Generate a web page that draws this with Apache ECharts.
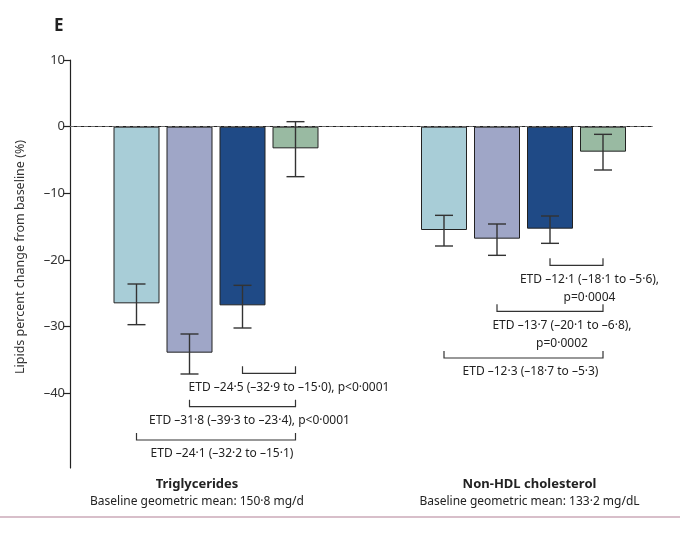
<!DOCTYPE html>
<html>
<head>
<meta charset="utf-8">
<script src="https://cdn.jsdelivr.net/npm/echarts@6/dist/echarts.min.js"></script>
<style>
  html, body { margin: 0; padding: 0; background: #fff; }
  #box { width: 680px; height: 533px; }
</style>
</head>
<body>
<div id="box"></div>
<script>
// 数据
var groups = ['Triglycerides', 'Non-HDL cholesterol'];
var baselines = ['Baseline geometric mean: 150·8 mg/d', 'Baseline geometric mean: 133·2 mg/dL'];
var arms = ['Arm 1', 'Arm 2', 'Arm 3', 'Arm 4'];
var yTicks = [10, 0, -10, -20, -30, -40];

var triMean = [-26.5, -33.9, -26.8, -3.25];
var triLow = [-29.7, -37.1, -30.2, -7.5];
var triHigh = [-23.6, -31.1, -23.8, 0.75];

var nhdlMean = [-15.5, -16.8, -15.3, -3.75];
var nhdlLow = [-17.9, -19.3, -17.5, -6.5];
var nhdlHigh = [-13.3, -14.6, -13.4, -1.15];

// 组间差异标注 (from arm -> last arm)
var triEtdFrom = [2, 1, 0];
var triEtdLevel = [-37, -42, -47];
var triEtdText = [
    'ETD –24·5 (–32·9 to –15·0), p<0·0001',
    'ETD –31·8 (–39·3 to –23·4), p<0·0001',
    'ETD –24·1 (–32·2 to –15·1)'
];
var nhdlEtdFrom = [2, 1, 0];
var nhdlEtdLevel = [-20.8, -27.7, -34.7];
var nhdlEtdText = [
    'ETD –12·1 (–18·1 to –5·6),\np=0·0004',
    'ETD –13·7 (–20·1 to –6·8),\np=0·0002',
    'ETD –12·3 (–18·7 to –5·3)'
];

var armColors = ['#a8cdd7', '#9fa6c7', '#1f4a86', '#99baa2'];
var font = '"Noto Sans", "DejaVu Sans", sans-serif';
var yMin = -51.2, yMax = 10;
var gridTop = 60, gridBottom = 65;

function errData(low, high) {
    return low.map(function(v, i) { return [i, v, high[i]]; });
}

function bracketData(from, level) {
    return from.map(function(f, i) { return [f, arms.length - 1, level[i], i]; });
}

function renderErr(params, api) {
    var x = api.value(0);
    var lo = api.coord([x, api.value(1)]);
    var hi = api.coord([x, api.value(2)]);
    var w = 9;
    var st = { stroke: '#333', lineWidth: 1.4 };
    return {
        type: 'group',
        children: [
            { type: 'line', shape: { x1: lo[0], y1: lo[1], x2: hi[0], y2: hi[1] }, style: st },
            { type: 'line', shape: { x1: lo[0] - w, y1: lo[1], x2: lo[0] + w, y2: lo[1] }, style: st },
            { type: 'line', shape: { x1: hi[0] - w, y1: hi[1], x2: hi[0] + w, y2: hi[1] }, style: st }
        ]
    };
}

function makeBracket(texts, shifts) {
    return function(params, api) {
        var a = api.coord([api.value(0), api.value(2)]);
        var b = api.coord([api.value(1), api.value(2)]);
        var idx = api.value(3);
        var t = 7;
        return {
            type: 'group',
            children: [
                {
                    type: 'polyline',
                    shape: { points: [[a[0], a[1] - t], [a[0], a[1]], [b[0], b[1]], [b[0], b[1] - t]] },
                    style: { stroke: '#333', lineWidth: 1.2, fill: null }
                },
                {
                    type: 'text',
                    x: (a[0] + b[0]) / 2 + shifts[idx],
                    y: a[1] + 5,
                    style: {
                        text: texts[idx],
                        fill: '#222',
                        font: '12px ' + font,
                        align: 'center',
                        verticalAlign: 'top',
                        lineHeight: 18
                    }
                }
            ]
        };
    };
}

var myChart = echarts.init(document.getElementById('box'));
var option = {
    animation: false,
    title: {
        text: 'E',
        left: 49,
        top: 13,
        textStyle: { fontSize: 17, fontWeight: 'bold', color: '#222', fontFamily: font }
    },
    graphic: [{
        type: 'line',
        shape: { x1: 0, y1: 517, x2: 680, y2: 517 },
        style: { stroke: '#d8bfca', lineWidth: 2 }
    }],
    grid: [
        { left: 70, right: 28, top: gridTop, bottom: gridBottom },
        { left: 110, width: 212, top: gridTop, bottom: gridBottom },
        { left: 417.5, width: 212, top: gridTop, bottom: gridBottom }
    ],
    xAxis: [
        {
            type: 'category',
            gridIndex: 0,
            data: groups,
            axisLine: { lineStyle: { color: '#222', width: 1.2 } },
            axisTick: { interval: 0, length: 7, lineStyle: { color: '#222', width: 1.2 } },
            axisLabel: {
                margin: 7,
                interval: 0,
                color: '#222',
                fontFamily: font,
                formatter: function(value, idx) {
                    return '{n' + idx + '|' + value + '}\n{b' + idx + '|' + baselines[idx] + '}';
                },
                rich: {
                    n0: { fontSize: 13, fontWeight: 'bold', fontFamily: font, lineHeight: 18, padding: [0, 37, 0, 0] },
                    b0: { fontSize: 12, fontFamily: font, lineHeight: 18, padding: [0, 37, 0, 0] },
                    n1: { fontSize: 13, fontWeight: 'bold', fontFamily: font, lineHeight: 18, padding: [0, 0, 0, 46] },
                    b1: { fontSize: 12, fontFamily: font, lineHeight: 18, padding: [0, 0, 0, 46] }
                }
            }
        },
        { type: 'category', gridIndex: 1, data: arms, show: false },
        { type: 'category', gridIndex: 2, data: arms, show: false }
    ],
    yAxis: [
        {
            type: 'value',
            gridIndex: 0,
            min: yMin,
            max: yMax,
            name: 'Lipids percent change from baseline (%)',
            nameLocation: 'middle',
            nameGap: 43,
            nameTextStyle: { fontSize: 12.5, color: '#333', fontFamily: font, padding: [0, 0, 0, 14] },
            axisLine: { show: true, lineStyle: { color: '#222', width: 1.2 } },
            axisTick: { show: true, length: 7, customValues: yTicks, lineStyle: { color: '#222', width: 1.2 } },
            axisLabel: {
                customValues: yTicks,
                margin: 5,
                fontSize: 13,
                color: '#333',
                fontFamily: font,
                formatter: function(v) { return String(v).replace('-', '–'); }
            },
            splitLine: { show: false }
        },
        { type: 'value', gridIndex: 1, min: yMin, max: yMax, show: false, splitLine: { show: false } },
        { type: 'value', gridIndex: 2, min: yMin, max: yMax, show: false, splitLine: { show: false } }
    ],
    series: [
        {
            // 0 基线
            type: 'line',
            xAxisIndex: 0,
            yAxisIndex: 0,
            data: [],
            markLine: {
                silent: true,
                symbol: 'none',
                label: { show: false },
                lineStyle: { color: '#6a6a6a', type: [4, 3], width: 1 },
                data: [{ yAxis: 0 }]
            }
        },
        {
            type: 'bar',
            xAxisIndex: 1,
            yAxisIndex: 1,
            barWidth: 46,
            data: triMean,
            itemStyle: {
                color: function(p) { return armColors[p.dataIndex]; },
                borderColor: '#222',
                borderWidth: 1
            }
        },
        {
            type: 'bar',
            xAxisIndex: 2,
            yAxisIndex: 2,
            barWidth: 46,
            data: nhdlMean,
            itemStyle: {
                color: function(p) { return armColors[p.dataIndex]; },
                borderColor: '#222',
                borderWidth: 1
            }
        },
        { type: 'custom', xAxisIndex: 1, yAxisIndex: 1, renderItem: renderErr, data: errData(triLow, triHigh), z: 5 },
        { type: 'custom', xAxisIndex: 2, yAxisIndex: 2, renderItem: renderErr, data: errData(nhdlLow, nhdlHigh), z: 5 },
        {
            type: 'custom', xAxisIndex: 1, yAxisIndex: 1, z: 5,
            renderItem: makeBracket(triEtdText, [20, 7, 6]),
            data: bracketData(triEtdFrom, triEtdLevel)
        },
        {
            type: 'custom', xAxisIndex: 2, yAxisIndex: 2, z: 5,
            renderItem: makeBracket(nhdlEtdText, [13, 12, 7]),
            data: bracketData(nhdlEtdFrom, nhdlEtdLevel)
        }
    ]
};
myChart.setOption(option);
</script>
</body>
</html>
